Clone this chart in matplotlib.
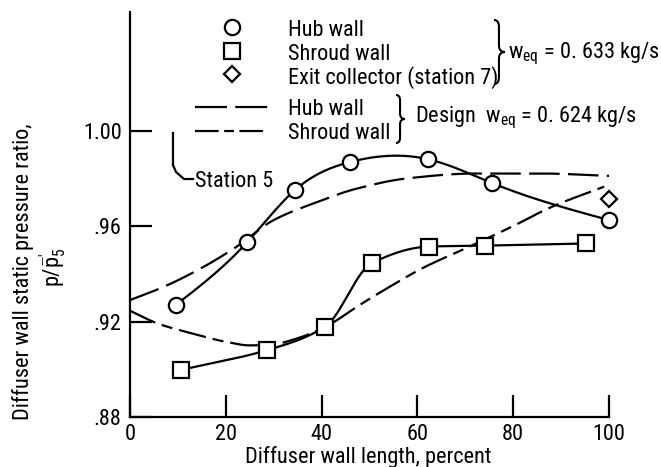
import numpy as np
import matplotlib
matplotlib.use("Agg")
import matplotlib.pyplot as plt
from matplotlib import font_manager
from matplotlib.lines import Line2D
from matplotlib.path import Path
from matplotlib.patches import PathPatch

# ---- measured static pressure ratios (w_eq = 0.633 kg/s) ----
hub_x = [9.6, 24.5, 34.4, 45.9, 62.2, 75.6, 100.0]
hub_y = [0.927, 0.9533, 0.975, 0.9868, 0.988, 0.978, 0.9625]

shroud_x = [10.6, 28.6, 40.7, 50.5, 62.4, 74.1, 95.3]
shroud_y = [0.8997, 0.908, 0.9178, 0.9445, 0.9514, 0.9518, 0.9527]

exit_x = [100.0]
exit_y = [0.9714]

# ---- design distributions (w_eq = 0.624 kg/s) ----
design_hub_x = [0, 7, 15, 22, 30, 39, 47, 58, 72, 86, 100]
design_hub_y = [0.929, 0.9345, 0.9425, 0.951, 0.9625, 0.970, 0.9755, 0.980,
                0.982, 0.982, 0.981]

design_shroud_x = [0, 6, 13, 20, 25, 30, 35, 41, 48, 55, 61, 71, 80, 88, 99]
design_shroud_y = [0.9245, 0.919, 0.915, 0.9115, 0.910, 0.9105, 0.913, 0.918,
                   0.927, 0.9355, 0.9423, 0.9515, 0.960, 0.968, 0.9765]

x_ticks = [0, 20, 40, 60, 80, 100]
x_tick_labels = ["0", "20", "40", "60", "80", "100"]
y_ticks = [0.88, 0.92, 0.96, 1.00]
y_tick_labels = [".88", ".92", ".96", "1.00"]


def natural_cubic(x, y, xs):
    x = np.asarray(x, float); y = np.asarray(y, float); xs = np.asarray(xs, float)
    n = len(x); h = np.diff(x)
    A = np.zeros((n, n)); b = np.zeros(n)
    A[0, 0] = A[-1, -1] = 1.0
    for i in range(1, n - 1):
        A[i, i - 1] = h[i - 1]
        A[i, i] = 2 * (h[i - 1] + h[i])
        A[i, i + 1] = h[i]
        b[i] = 6 * ((y[i + 1] - y[i]) / h[i] - (y[i] - y[i - 1]) / h[i - 1])
    M = np.linalg.solve(A, b)
    k = np.clip(np.searchsorted(x, xs) - 1, 0, n - 2)
    x0, x1 = x[k], x[k + 1]; hh = x1 - x0
    t0, t1 = x1 - xs, xs - x0
    return ((M[k] * t0 ** 3 + M[k + 1] * t1 ** 3) / (6 * hh)
            + (y[k] / hh - M[k] * hh / 6) * t0
            + (y[k + 1] / hh - M[k + 1] * hh / 6) * t1)


def pchip(x, y, xs):
    x = np.asarray(x, float); y = np.asarray(y, float); xs = np.asarray(xs, float)
    n = len(x); h = np.diff(x); d = np.diff(y) / h
    m = np.zeros(n)
    for i in range(1, n - 1):
        if d[i - 1] * d[i] <= 0:
            m[i] = 0.0
        else:
            w1 = 2 * h[i] + h[i - 1]; w2 = h[i] + 2 * h[i - 1]
            m[i] = (w1 + w2) / (w1 / d[i - 1] + w2 / d[i])
    m[0] = d[0]; m[-1] = d[-1]
    k = np.clip(np.searchsorted(x, xs) - 1, 0, n - 2)
    hh = h[k]; t = (xs - x[k]) / hh
    h00 = 2 * t ** 3 - 3 * t ** 2 + 1
    h10 = t ** 3 - 2 * t ** 2 + t
    h01 = -2 * t ** 3 + 3 * t ** 2
    h11 = t ** 3 - t ** 2
    return h00 * y[k] + h10 * hh * m[k] + h01 * y[k + 1] + h11 * hh * m[k + 1]


# pick a narrow sans face if one is present, else Roboto
_names = {f.name for f in font_manager.fontManager.ttflist}
if "Liberation Sans Narrow" in _names:
    FAMILY, FS = "Liberation Sans Narrow", 16
elif "Roboto Condensed" in _names:
    FAMILY, FS = "Roboto Condensed", 16
elif "Roboto" in _names:
    FAMILY, FS = "Roboto", 14
else:
    FAMILY, FS = "Liberation Sans", 13.5

plt.rcParams["font.family"] = [FAMILY, "DejaVu Sans"]
plt.rcParams["mathtext.fontset"] = "custom"
plt.rcParams["mathtext.rm"] = FAMILY
plt.rcParams["mathtext.it"] = FAMILY
plt.rcParams["lines.scale_dashes"] = False

W, H = 661, 467
fig = plt.figure(figsize=(W / 100, H / 100), dpi=100)

# axes frame in pixel units
L, R, B, T = 130, 609, 417, 12
ax = fig.add_axes([L / W, 1 - B / H, (R - L) / W, (B - T) / H])
ax.set_xlim(0, 100)
ax.set_ylim(0.88, 0.88 + (B - T) / 2387.0)

for s in ("top", "right"):
    ax.spines[s].set_visible(False)
for s in ("left", "bottom"):
    ax.spines[s].set_linewidth(1.6)

ax.set_xticks(x_ticks, x_tick_labels)
ax.set_yticks(y_ticks, y_tick_labels)
ax.tick_params(direction="in", length=16, width=1.6, labelsize=FS)
ax.tick_params(axis="y", pad=6)
ax.tick_params(axis="x", pad=5)

LW = 1.6
HUB_DASH = (22, 6)
SHROUD_DASH = (20, 5, 8, 5)

# design curves
xd = np.linspace(design_hub_x[0], design_hub_x[-1], 300)
ax.plot(xd, pchip(design_hub_x, design_hub_y, xd), color="black", lw=LW,
        dashes=HUB_DASH, zorder=2)
xd = np.linspace(design_shroud_x[0], design_shroud_x[-1], 300)
ax.plot(xd, pchip(design_shroud_x, design_shroud_y, xd), color="black", lw=LW,
        dashes=SHROUD_DASH, zorder=2)

# faired curves through measured data
xs = np.linspace(hub_x[0], hub_x[-1], 300)
ax.plot(xs, natural_cubic(hub_x, hub_y, xs), color="black", lw=LW, zorder=3,
        clip_on=False)
xs = np.linspace(shroud_x[0], shroud_x[-1], 300)
ax.plot(xs, pchip(shroud_x, shroud_y, xs), color="black", lw=LW, zorder=3,
        clip_on=False)

mk = dict(ls="none", mfc="white", mec="black", mew=1.6, zorder=4, clip_on=False)
ax.plot(hub_x, hub_y, marker="o", ms=11, **mk)
ax.plot(shroud_x, shroud_y, marker="s", ms=11, **mk)
ax.plot(exit_x, exit_y, marker="D", ms=8.5, **mk)


# ---- helpers working in pixel coordinates ----
def P(x, y):
    return (x / W, 1 - y / H)


def ftext(x, y, s, **kw):
    kw.setdefault("fontsize", FS)
    kw.setdefault("va", "baseline")
    fig.text(*P(x, y), s, **kw)


def fline(xs_, ys_, **kw):
    pts = [P(a, b) for a, b in zip(xs_, ys_)]
    kw.setdefault("color", "black")
    fig.add_artist(Line2D([p[0] for p in pts], [p[1] for p in pts],
                          transform=fig.transFigure, **kw))


def brace(x0, y_top, y_bot, width, y_tip=None):
    if y_tip is None:
        y_tip = (y_top + y_bot) / 2
    xm = x0 + width * 0.45
    r = width * 0.6
    verts = [(x0, y_top), (xm, y_top), (xm, y_top + r),
             (xm, y_tip - r),
             (xm, y_tip), (x0 + width, y_tip),
             (xm, y_tip), (xm, y_tip + r),
             (xm, y_bot - r),
             (xm, y_bot), (x0, y_bot)]
    codes = [Path.MOVETO, Path.CURVE3, Path.CURVE3, Path.LINETO,
             Path.CURVE3, Path.CURVE3, Path.CURVE3, Path.CURVE3,
             Path.LINETO, Path.CURVE3, Path.CURVE3]
    path = Path([P(*v) for v in verts], codes)
    fig.add_artist(PathPatch(path, transform=fig.transFigure, fill=False,
                             lw=1.5, ec="black"))


# symbol key
key = dict(ls="none", mfc="white", mec="black", mew=1.6)
fline([232], [27], marker="o", ms=11, **key)
fline([232], [51], marker="s", ms=11, **key)
fline([232], [74], marker="D", ms=8.5, **key)
ftext(288, 36, "Hub wall")
ftext(288, 60, "Shroud wall")
ftext(288, 84, "Exit collector (station 7)")
brace(494, 20, 84, 11, 52)
ftext(508, 58, r"$\mathrm{w_{eq}}$ = 0. 633 kg/s")

# line key
fline([195, 268], [107, 107], lw=LW, dashes=(23, 6))
fline([195, 268], [131, 131], lw=LW, dashes=(17, 4, 7, 4))
ftext(288, 115, "Hub wall")
ftext(288, 139, "Shroud wall")
brace(396, 95, 143, 9, 119)
ftext(415, 122, r"Design  $\mathrm{w_{eq}}$ = 0. 624 kg/s")

# station 5 marker
fline([173, 173], [133, 165], lw=LW)
fline([173, 176, 184, 193], [165, 172, 179, 179], lw=LW)
ftext(195, 187, "Station 5")

# axis titles
ftext(368, 463, "Diffuser wall length, percent", ha="center")
fig.text(*P(23, 272), "Diffuser wall static pressure ratio,", rotation=90,
         ha="center", va="center", fontsize=FS)
fig.text(*P(53, 267), r"$p/\bar{p}_5^{\prime}$", rotation=90,
         ha="center", va="center", fontsize=FS)

fig.savefig("out.png", dpi=100)
